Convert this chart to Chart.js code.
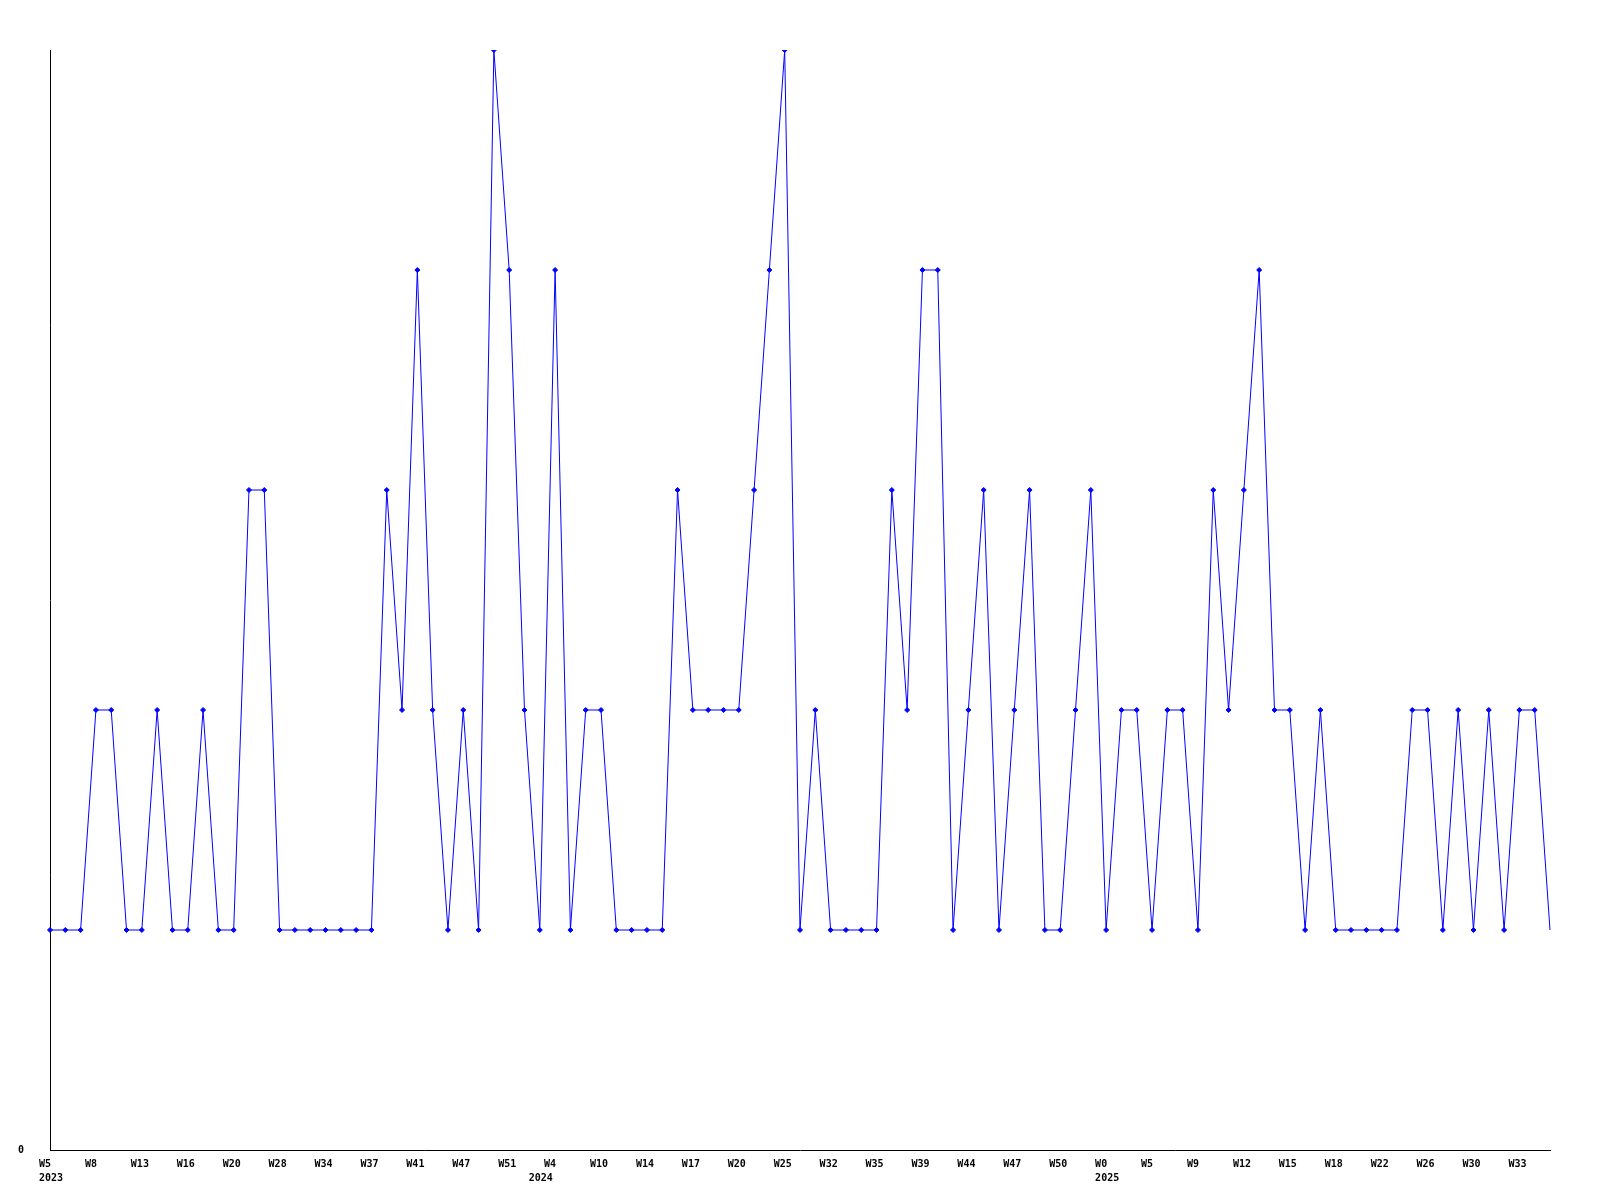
<!DOCTYPE html>
<html>
<head>
<meta charset="utf-8">
<script src="https://cdn.jsdelivr.net/npm/chart.js@4/dist/chart.umd.min.js"></script>
<style>
  html, body { margin: 0; padding: 0; background: #fff; }
  #wrap { width: 1600px; height: 1200px; }
</style>
</head>
<body>
<div id="wrap"><canvas id="weekly"></canvas></div>
<script>
// tick labels shown on every third week
const weekTicks = ['W5', 'W8', 'W13', 'W16', 'W20', 'W28', 'W34', 'W37', 'W41', 'W47', 'W51',
    'W4', 'W10', 'W14', 'W17', 'W20', 'W25', 'W32', 'W35', 'W39', 'W44', 'W47', 'W50',
    'W0', 'W5', 'W9', 'W12', 'W15', 'W18', 'W22', 'W26', 'W30', 'W33'];
// year labels sit under the first week of each year
const years = ['2023', '2024', '2025'];
const yearStart = [0, 32, 69];

const counts = [1, 1, 1, 2, 2, 1, 1, 2, 1, 1, 2, 1, 1, 3, 3, 1, 1, 1, 1, 1,
    1, 1, 3, 2, 4, 2, 1, 2, 1, 5, 4, 2, 1, 4, 1, 2, 2, 1, 1, 1,
    1, 3, 2, 2, 2, 2, 3, 4, 5, 1, 2, 1, 1, 1, 1, 3, 2, 4, 4, 1,
    2, 3, 1, 2, 3, 1, 1, 2, 3, 1, 2, 2, 1, 2, 2, 1, 3, 2, 3, 4,
    2, 2, 1, 2, 1, 1, 1, 1, 1, 2, 2, 1, 2, 1, 2, 1, 2, 2, 1];

// one category per week, labelled on every third
const labels = counts.map((c, i) => {
    const week = i % 3 === 0 ? weekTicks[i / 3] : '';
    const y = yearStart.indexOf(i);
    return y >= 0 ? [week, years[y]] : week;
});

Chart.defaults.font.family = 'DejaVu Sans Mono';
Chart.defaults.font.size = 10;
Chart.defaults.font.weight = 'bold';
Chart.defaults.color = '#000';

new Chart(document.getElementById('weekly'), {
    type: 'line',
    data: {
        labels,
        datasets: [
            {
                data: counts,
                borderColor: '#0000ff',
                backgroundColor: '#0000ff',
                borderWidth: 1,
                tension: 0,
                pointStyle: 'rectRot',
                pointRadius: ctx => ctx.dataIndex === counts.length - 1 ? 0 : 2.5,
                pointBorderWidth: 1
            }
        ]
    },
    options: {
        responsive: true,
        maintainAspectRatio: false,
        animation: false,
        layout: { padding: { top: 50, right: 50, left: 0, bottom: 0 } },
        plugins: {
            legend: { display: false },
            tooltip: { enabled: false }
        },
        scales: {
            x: {
                offset: false,
                grid: { display: false, drawTicks: false },
                border: { display: true, color: '#000', width: 1 },
                ticks: {
                    autoSkip: false,
                    maxRotation: 0,
                    minRotation: 0,
                    align: 'start',
                    padding: 7,
                    labelOffset: -11,
                    font: { lineHeight: 1.4 }
                },
                afterFit: scale => { scale.height = 50; }
            },
            y: {
                min: 0,
                max: 5,
                grid: { display: false, drawTicks: false },
                border: { display: true, color: '#000', width: 1 },
                ticks: {
                    stepSize: 1,
                    padding: 26,
                    callback: v => v === 0 ? '0' : ''
                },
                afterFit: scale => { scale.width = 50; }
            }
        }
    }
});
</script>
</body>
</html>
